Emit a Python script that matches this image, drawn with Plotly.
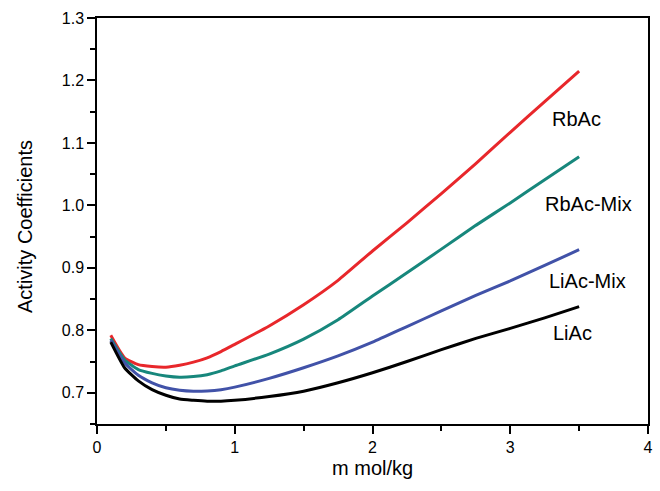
import plotly.graph_objects as go

x = [0.1, 0.2, 0.3, 0.4, 0.5, 0.6, 0.7, 0.8, 0.9, 1.0, 1.25, 1.5, 1.75, 2.0, 2.25, 2.5, 2.75, 3.0, 3.25, 3.5]
rbac = [0.792, 0.756, 0.745, 0.742, 0.741, 0.744, 0.749, 0.756, 0.766, 0.7775, 0.807, 0.841, 0.880, 0.927, 0.972, 1.019, 1.067, 1.117, 1.166, 1.215]
rbac_mix = [0.787, 0.753, 0.737, 0.731, 0.727, 0.725, 0.726, 0.729, 0.735, 0.743, 0.762, 0.786, 0.817, 0.855, 0.892, 0.930, 0.968, 1.004, 1.041, 1.078]
liac_mix = [0.784, 0.748, 0.728, 0.716, 0.708, 0.704, 0.7025, 0.703, 0.705, 0.709, 0.723, 0.740, 0.759, 0.781, 0.806, 0.831, 0.856, 0.879, 0.904, 0.929]
liac = [0.781, 0.740, 0.719, 0.705, 0.696, 0.690, 0.688, 0.6866, 0.6866, 0.688, 0.694, 0.7025, 0.716, 0.732, 0.750, 0.769, 0.787, 0.803, 0.820, 0.838]

series = [
    ("RbAc", rbac, "#e8272b"),
    ("RbAc-Mix", rbac_mix, "#17877c"),
    ("LiAc-Mix", liac_mix, "#4152a8"),
    ("LiAc", liac, "#000000"),
]

label_names = ["RbAc", "RbAc-Mix", "LiAc-Mix", "LiAc"]
label_x = [3.289, 3.238, 3.267, 3.296]
label_y = [1.139, 1.002, 0.879, 0.795]

x_title = "m mol/kg"
y_title = "Activity Coefficients"

FONT = "Liberation Sans, Arial, sans-serif"

fig = go.Figure()
for name, ys, col in series:
    fig.add_trace(go.Scatter(x=x, y=ys, mode="lines", name=name,
                             line=dict(color=col, width=3, shape="spline", smoothing=0.5)))

for t, lx, ly in zip(label_names, label_x, label_y):
    fig.add_annotation(x=lx, y=ly, text=t, showarrow=False, xanchor="left",
                       yanchor="middle", font=dict(size=20, color="black", family=FONT))

fig.add_annotation(xref="paper", yref="paper", x=0.5, y=-0.108, text=x_title,
                   showarrow=False, xanchor="center", yanchor="middle",
                   font=dict(size=20, color="black", family=FONT))
fig.add_annotation(xref="paper", yref="paper", x=-0.1307, y=0.4877, text=y_title,
                   showarrow=False, xanchor="center", yanchor="middle", textangle=-90,
                   font=dict(size=20, color="black", family=FONT))

axis_common = dict(showgrid=False, zeroline=False, showline=True, linecolor="black",
                   linewidth=1.5, mirror=True, ticks="outside", ticklen=8, tickwidth=1.5,
                   tickcolor="black", automargin=False,
                   tickfont=dict(size=16, color="black", family=FONT))

fig.update_xaxes(range=[0, 4], tickmode="array", tickvals=[0, 1, 2, 3, 4],
                 ticktext=["0", "1", "2", "3", "4"],
                 minor=dict(ticks="outside", ticklen=5, tickwidth=1.5, tickcolor="black", dtick=0.5),
                 **axis_common)
fig.update_yaxes(range=[0.65, 1.3], tickmode="array",
                 tickvals=[0.7, 0.8, 0.9, 1.0, 1.1, 1.2, 1.3],
                 ticktext=["0.7", "0.8", "0.9", "1.0", "1.1", "1.2", "1.3"],
                 minor=dict(ticks="outside", ticklen=5, tickwidth=1.5, tickcolor="black", tick0=0.65, dtick=0.1),
                 **axis_common)

fig.update_layout(width=660, height=491, margin=dict(l=97, r=12, t=18, b=67),
                  paper_bgcolor="white", plot_bgcolor="white", showlegend=False,
                  font=dict(family=FONT))

fig.write_html("out.html")
